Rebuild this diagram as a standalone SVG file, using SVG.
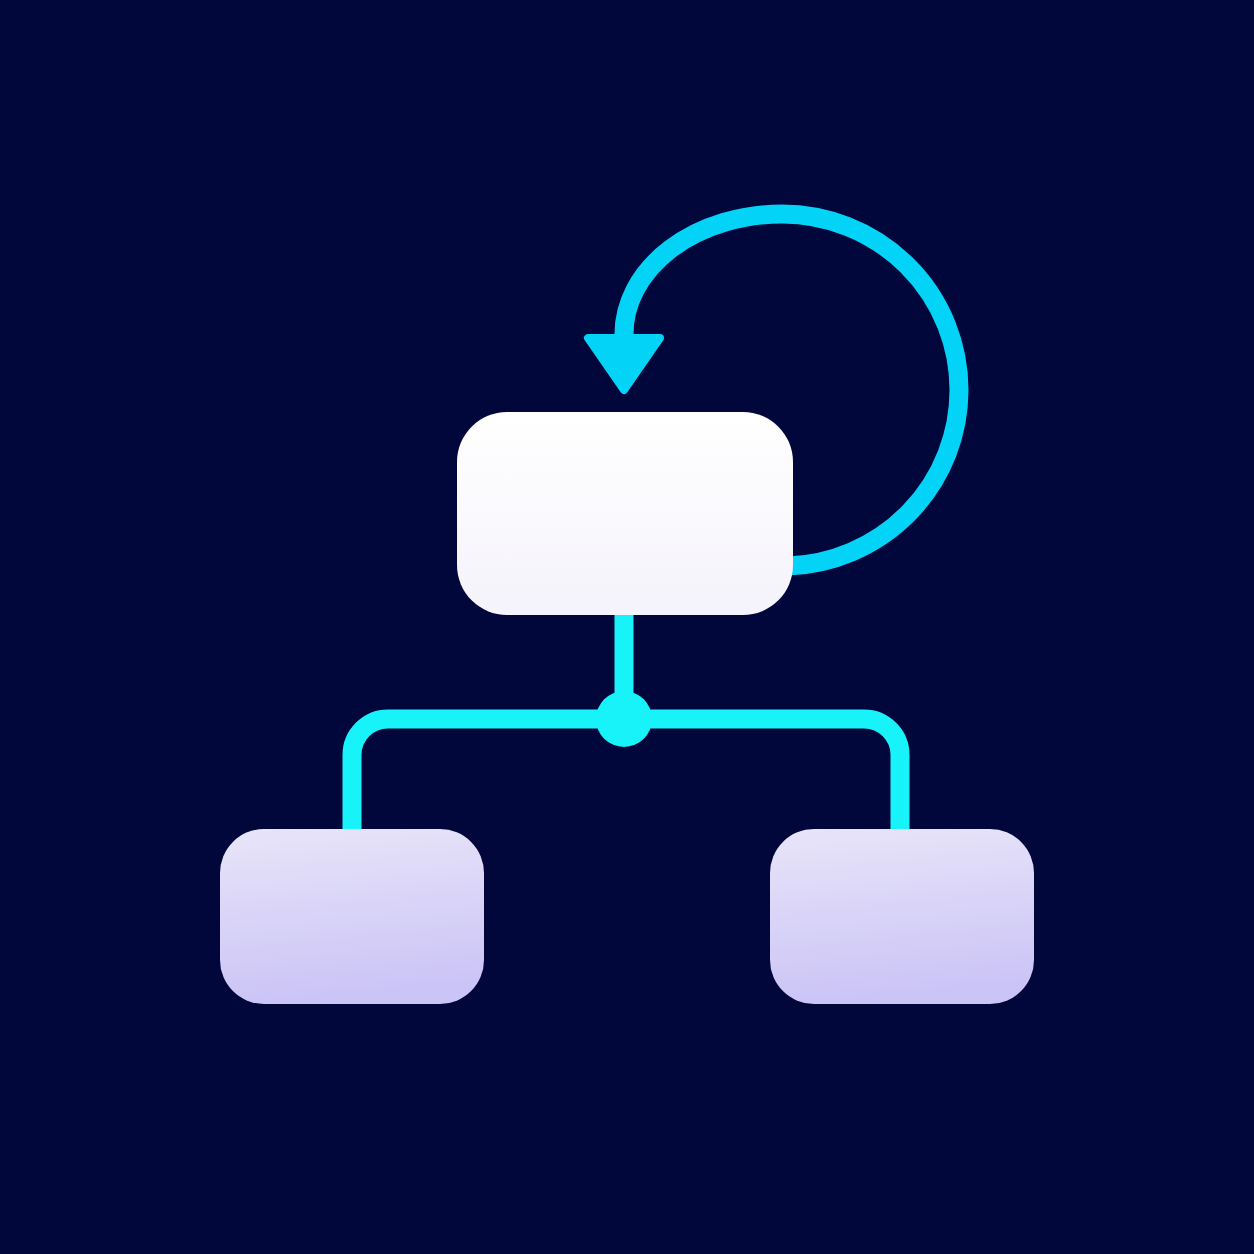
<svg xmlns="http://www.w3.org/2000/svg" width="1254" height="1254" viewBox="0 0 1254 1254">
  <defs>
    <linearGradient id="gTop" x1="0" y1="0" x2="0" y2="1">
      <stop offset="0" stop-color="#FFFFFF"/>
      <stop offset="1" stop-color="#F5F3FB"/>
    </linearGradient>
    <linearGradient id="gBot" x1="0" y1="0" x2="0.15" y2="1">
      <stop offset="0" stop-color="#E8E5F9"/>
      <stop offset="1" stop-color="#CBC4F6"/>
    </linearGradient>
    <style>
      .tree { fill: none; stroke: #18F3FA; stroke-width: 19; stroke-linejoin: round; }
      .loop { fill: none; stroke: #02D3F7; stroke-width: 19; }
      .head { fill: #02D3F7; stroke: #02D3F7; stroke-width: 8; stroke-linejoin: round; }
    </style>
  </defs>
  <rect width="1254" height="1254" fill="#01073A"/>
  <g id="connectors">
    <path class="loop" d="M 788 566 A 177 176 0 0 0 959 390 A 177 176 0 0 0 782 214 A 158 120 0 0 0 624 334 V 342"/>
    <polygon class="head" points="588,338 660,338 624,390"/>
    <path class="tree" d="M 624 612 V 700"/>
    <path class="tree" d="M 352 832 V 755 A 36 36 0 0 1 388 719 H 864 A 36 36 0 0 1 900 755 V 832"/>
    <circle cx="624" cy="719" r="28" fill="#18F3FA"/>
  </g>
  <g id="node-top">
    <rect x="457" y="412" width="336" height="203" rx="50" fill="url(#gTop)"/>
  </g>
  <g id="node-left">
    <rect x="220" y="829" width="264" height="175" rx="44" fill="url(#gBot)"/>
  </g>
  <g id="node-right">
    <rect x="770" y="829" width="264" height="175" rx="44" fill="url(#gBot)"/>
  </g>
</svg>
